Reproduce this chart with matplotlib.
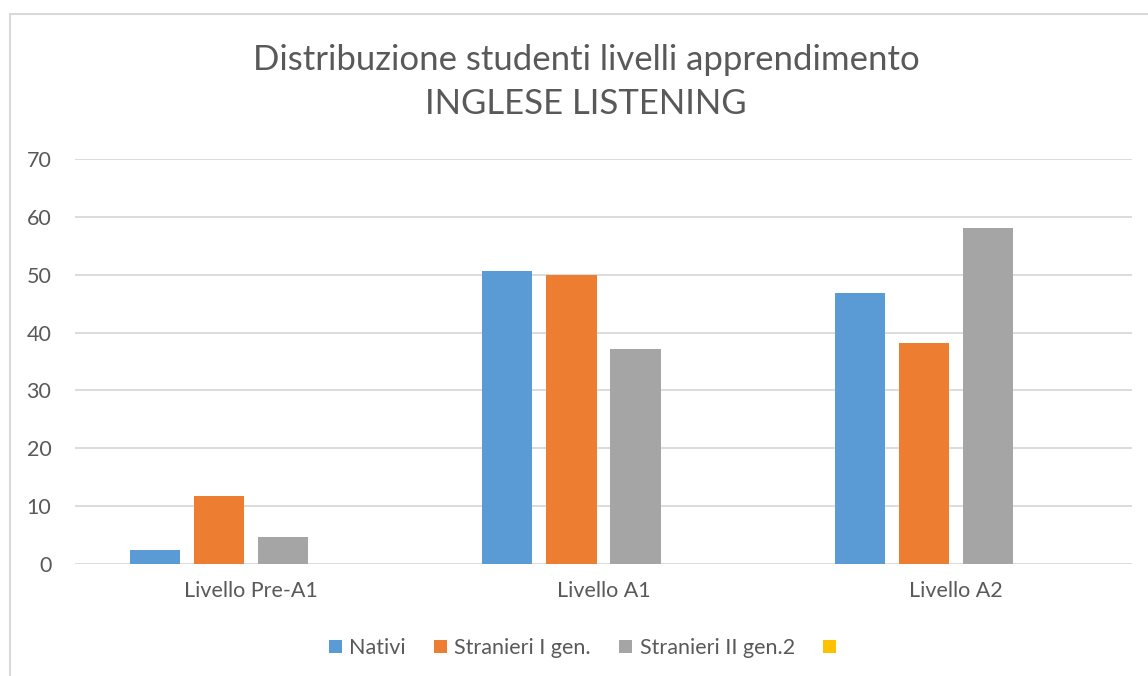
import matplotlib
matplotlib.use('agg')
import matplotlib.pyplot as plt
import numpy as np
from matplotlib.patches import Patch
from matplotlib.lines import Line2D

categories = ['Livello Pre-A1', 'Livello A1', 'Livello A2']
series_names = ['Nativi', 'Stranieri I gen.', 'Stranieri II gen.2', '']
nativi = [2.5, 50.6, 46.9]
stranieri_1 = [11.8, 50.0, 38.2]
stranieri_2 = [4.6, 37.2, 58.0]
empty_series = [0, 0, 0]
colors = ['#5B9BD5', '#ED7D31', '#A5A5A5', '#FFC000']
text_color = '#595959'
grid_color = '#D9D9D9'

plt.rcParams['font.family'] = ['Lato', 'DejaVu Sans']

W, H = 1148, 676
fig = plt.figure(figsize=(W / 100, H / 100), dpi=100)
ax = fig.add_axes([75 / W, 1 - 564 / H, (1132 - 75) / W, (564 - 159) / H])

x = np.arange(len(categories))
width = 0.142
step = 0.1817
all_series = [nativi, stranieri_1, stranieri_2, empty_series]
for i, (vals, color) in enumerate(zip(all_series, colors)):
    offset = (i - 1.5) * step
    ax.bar(x + offset, vals, width, color=color, zorder=3)

ax.set_xlim(-0.5, 2.5)
ax.set_ylim(0, 70)
ax.set_yticks(range(0, 71, 10))
ax.set_xticks(x)
ax.set_xticklabels(categories)
ax.yaxis.grid(True, color=grid_color, linewidth=1.3)
ax.set_axisbelow(True)
for s in ax.spines.values():
    s.set_visible(False)
ax.tick_params(axis='both', length=0, colors=text_color, labelsize=15.5)
ax.tick_params(axis='y', pad=17)
ax.tick_params(axis='x', pad=12)

fig.text(586 / W, 1 - 60 / H, 'Distribuzione studenti livelli apprendimento',
         ha='center', va='center', fontsize=25, color=text_color)
fig.text(586 / W, 1 - 104 / H, 'INGLESE LISTENING',
         ha='center', va='center', fontsize=25, color=text_color)

handles = [Patch(facecolor=c, edgecolor='none') for c in colors]
fig.legend(handles, series_names, loc='center', bbox_to_anchor=(586 / W, 1 - 648 / H),
           ncol=4, frameon=False, fontsize=15.5, labelcolor=text_color,
           handlelength=0.6, handleheight=0.6, handletextpad=0.35, columnspacing=1.3)

# chart area border (left and top edges visible)
fig.add_artist(Line2D([10 / W, 10 / W], [0, 1 - 14 / H], transform=fig.transFigure,
                      color=grid_color, linewidth=1.5))
fig.add_artist(Line2D([10 / W, 1], [1 - 14 / H, 1 - 14 / H], transform=fig.transFigure,
                      color=grid_color, linewidth=1.5))

plt.savefig('out.png', dpi=100)
